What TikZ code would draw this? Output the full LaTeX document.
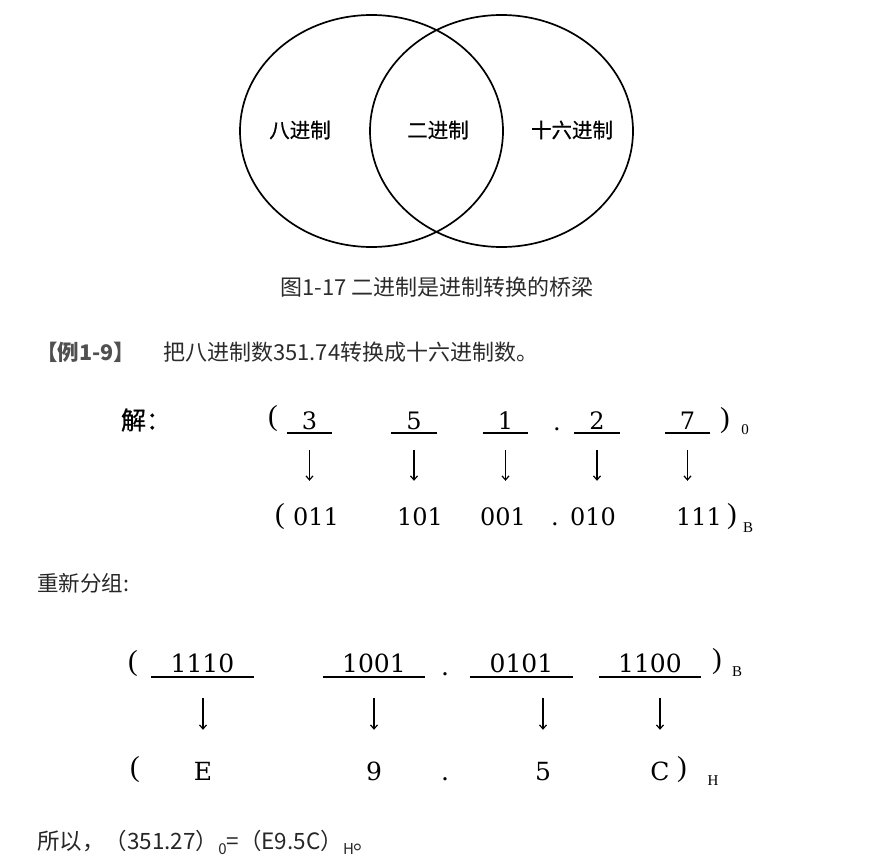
\documentclass[tikz,border=0pt]{standalone}
\usepackage{fontspec}
\setmainfont{DejaVu Serif}
\newfontfamily\cjk{Noto Sans CJK SC}
\newfontfamily\cjkm[FakeBold=0.6]{Noto Sans CJK SC}
\newfontfamily\digfont{DejaVu Serif}
\newfontfamily\parfont{Liberation Serif}
\usetikzlibrary{arrows.meta,positioning}
\definecolor{ink}{HTML}{2B2B2B}
\definecolor{tag}{HTML}{505050}
\tikzset{>={Straight Barb[length=4pt,width=7pt]}}
\tikzset{
  venn/.style={draw,line width=1.7pt},
  vlab/.style={font=\cjkm\fontsize{20.5}{21}\selectfont},
  body/.style={font=\cjk\fontsize{22}{22}\selectfont,text=ink,inner sep=0pt},
  grp/.style={font=\digfont\fontsize{24}{24}\selectfont,inner sep=0pt,
    text height=17pt,text depth=3pt},
  wide/.style={grp,font=\digfont\fontsize{25}{25}\selectfont,
    text height=19pt,text depth=4pt},
  par/.style={font=\parfont\fontsize{29}{29}\selectfont,inner sep=0pt},
  sub/.style={font=\parfont\fontsize{15}{15}\selectfont,inner sep=0pt},
  uline/.style={line width=1.2pt},
  conv/.style={->,line width=1.2pt}
}
\begin{document}
\begin{tikzpicture}[x=1pt,y=-1pt]
\useasboundingbox (0,0) rectangle (888,864);
% venn diagram
\draw[venn] (371.5,131) ellipse [x radius=131.5pt,y radius=116pt];
\draw[venn] (501.5,131) ellipse [x radius=131.5pt,y radius=116pt];
\node[vlab] (oct) at (300,130) {八进制};
\node[vlab] (bin) at (438,130) {二进制};
\node[vlab] (hex) at (572,130) {十六进制};
\node[body] (cap) at (437,287) {图1-17 二进制是进制转换的桥梁};

\node[body,anchor=west,text=tag,font=\cjk\bfseries\fontsize{21.5}{22}\selectfont] (ex) at (36,352) {【例1-9】};
\node[body,anchor=west] (task) at (163,352) {把八进制数351.74转换成十六进制数。};
\node[font=\cjkm\fontsize{25}{25}\selectfont,inner sep=0pt] (sol) at (146,420) {解：};

% octal -> binary
\node[par] (lp1) at (273,419) {(};
\foreach \n/\x/\d in {1/309.5/3,2/414/5,3/505.5/1,4/597/2,5/687.5/7}
  \node[grp,minimum width=45pt,anchor=south] (o\n) at (\x,433) {\d};
\node[grp,anchor=base] (od) at (557,430) {.};
\node[par] (rp1) at (725,421) {)};
\node[sub] (s1) at (745,430) {0};

\node[par] (lp2) at (280,517) {(};
\foreach \n/\x/\d in {1/316/011,2/420/101,3/503/001,4/593/010,5/699/111}
  \node[grp,anchor=base] (b\n) at (\x,525) {\d};
\node[grp,anchor=base] (bd) at (555,525) {.};
\node[par] (rp2) at (732,517) {)};
\node[sub] (s2) at (748,528) {B};

\foreach \n in {1,...,5}{
  \draw[uline] (o\n.south west) -- (o\n.south east);
  \draw[conv,shorten <=17pt,shorten >=27pt] (o\n.south) -- (o\n.south |- b\n.north);
}

\node[body,anchor=west,text=black!85,font=\cjk\fontsize{21.5}{22}\selectfont] (regroup) at (37,583) {重新分组:};

% binary -> hexadecimal
\node[par] (lp3) at (133,664) {(};
\foreach \n/\x/\d in {1/202.5/1110,2/374/1001,3/521.5/0101,4/650/1100}
  \node[wide,minimum width=102pt,anchor=south] (g\n) at (\x,677) {\d};
\node[wide,anchor=base] (gd) at (445,675) {.};
\node[par] (rp3) at (717,662) {)};
\node[sub] (s3) at (737,672) {B};

\node[par] (lp4) at (135,770) {(};
\foreach \n/\x/\d in {1/203/E,2/374/9,3/543/5,4/660/C}
  \node[wide,anchor=base] (h\n) at (\x,780) {\d};
\node[wide,anchor=base] (hd) at (445,780) {.};
\node[par] (rp4) at (682,770) {)};
\node[sub] (s4) at (713,781) {H};

\foreach \n in {1,...,4}{
  \draw[uline] (g\n.south west) -- (g\n.south east);
  \draw[conv,shorten <=21pt,shorten >=31pt] (g\n.south -| h\n.north) -- (h\n.north);
}

\node[body,anchor=west,text=black!85,font=\cjk\fontsize{22.5}{23}\selectfont] (res) at (37,842)
  {所以，（351.27）\raisebox{-5pt}{\fontsize{15}{15}\selectfont 0}=（E9.5C）\raisebox{-5pt}{\fontsize{15}{15}\selectfont H}。};
\end{tikzpicture}
\end{document}
